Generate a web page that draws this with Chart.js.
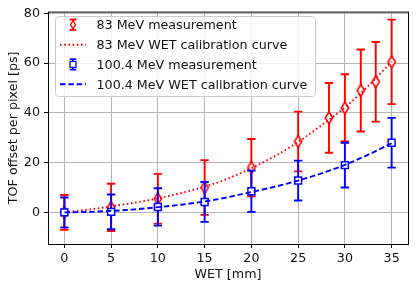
<!DOCTYPE html>
<html>
<head>
<meta charset="utf-8">
<script src="https://cdn.jsdelivr.net/npm/chart.js@4.4.1/dist/chart.umd.min.js"></script>
<style>
  html, body { margin: 0; padding: 0; background: #fff; }
  canvas { display: block; }
</style>
</head>
<body>
<canvas id="chart" width="416" height="289"></canvas>
<script>
// measured points, 83 MeV beam
const wet83 = [0, 5, 10, 15, 20, 25, 28.3, 30, 31.7, 33.3, 35];
const tof83 = [0, 2, 5.5, 10, 18, 28.5, 38, 42, 49, 52.5, 60.5];
const err83 = [7, 9.5, 10, 11, 11.5, 12, 14, 13.5, 16.5, 16, 17];

// measured points, 100.4 MeV beam
const wet100 = [0, 5, 10, 15, 20, 25, 30, 35];
const tof100 = [0, 0.2, 2.2, 4.2, 8.5, 12.8, 19, 28];
const err100 = [6, 7, 7.5, 8, 8.3, 8, 9, 10];

// calibration curves
const curveWet = [0, 2.5, 5, 7.5, 10, 12.5, 15, 17.5, 20, 22.5, 25, 27.5, 30, 32.5, 35];
const curve83 = [0, 1.1, 2.4, 3.9, 5.6, 7.8, 10.3, 13.6, 17.8, 22.6, 28.3, 35, 42.2, 50.8, 60.6];
const curve100 = [0, 0.2, 0.6, 1.2, 2.1, 3.1, 4.4, 6.1, 8.2, 10.3, 12.8, 15.7, 19.1, 23.2, 27.8];

const xTicks = [0, 5, 10, 15, 20, 25, 30, 35];
const yTicks = [0, 20, 40, 60, 80];

const labels = [
  '83 MeV measurement',
  '83 MeV WET calibration curve',
  '100.4 MeV measurement',
  '100.4 MeV WET calibration curve'
];

const RED = '#ff0000';
const BLUE = '#0000ff';
const FONT = '"DejaVu Sans", sans-serif';
const FSIZE = 12.7;
const DOTS = [1.6, 2.6];
const DASHES = [5.5, 2.8];

Chart.defaults.font.family = FONT;
Chart.defaults.font.size = FSIZE;
Chart.defaults.color = '#111';

function diamondPath(ctx, cx, cy, hw, hh) {
  ctx.beginPath();
  ctx.moveTo(cx, cy - hh);
  ctx.lineTo(cx + hw, cy);
  ctx.lineTo(cx, cy + hh);
  ctx.lineTo(cx - hw, cy);
  ctx.closePath();
}

// thin diamond marker like matplotlib 'd', white face
const diamond = document.createElement('canvas');
diamond.width = 12;
diamond.height = 16;
(function () {
  const c = diamond.getContext('2d');
  c.strokeStyle = RED;
  c.fillStyle = '#fff';
  c.lineWidth = 1.6;
  diamondPath(c, 6, 8, 3.7, 6);
  c.fill();
  c.stroke();
})();

const pts = (xs, ys) => xs.map((x, i) => ({ x: x, y: ys[i] }));

const errorBars = {
  id: 'errorBars',
  beforeDatasetDraw(chart, args) {
    const ds = chart.data.datasets[args.index];
    if (!ds.errors) return;
    const { ctx, scales: { x, y } } = chart;
    ctx.save();
    ctx.strokeStyle = ds.borderColor;
    ctx.lineWidth = 1.9;
    ds.data.forEach((p, i) => {
      const px = x.getPixelForValue(p.x);
      const top = y.getPixelForValue(p.y + ds.errors[i]);
      const bot = y.getPixelForValue(p.y - ds.errors[i]);
      ctx.beginPath();
      ctx.moveTo(px, top);
      ctx.lineTo(px, bot);
      ctx.moveTo(px - 4.2, top);
      ctx.lineTo(px + 4.2, top);
      ctx.moveTo(px - 4.2, bot);
      ctx.lineTo(px + 4.2, bot);
      ctx.stroke();
    });
    ctx.restore();
  }
};

const frameAndLegend = {
  id: 'frameAndLegend',
  afterDatasetsDraw(chart) {
    const { ctx, chartArea: a } = chart;
    ctx.save();
    ctx.strokeStyle = '#000';
    ctx.lineWidth = 1;
    ctx.strokeRect(a.left + 0.5, a.top + 0.5, a.right - a.left, a.bottom - a.top);

    // legend box
    const bx = 55.5, by = 16.5, bw = 260, bh = 80, r = 3;
    ctx.beginPath();
    ctx.moveTo(bx + r, by);
    ctx.arcTo(bx + bw, by, bx + bw, by + bh, r);
    ctx.arcTo(bx + bw, by + bh, bx, by + bh, r);
    ctx.arcTo(bx, by + bh, bx, by, r);
    ctx.arcTo(bx, by, bx + bw, by, r);
    ctx.closePath();
    ctx.fillStyle = 'rgba(255,255,255,0.8)';
    ctx.fill();
    ctx.strokeStyle = '#cccccc';
    ctx.stroke();

    const rows = [24.7, 44.8, 64.4, 84.3];
    const hx = 73, l0 = 60, l1 = 86;

    const errHandle = (cy, color) => {
      ctx.strokeStyle = color;
      ctx.lineWidth = 1.8;
      ctx.beginPath();
      ctx.moveTo(hx, cy - 5.2); ctx.lineTo(hx, cy + 5.2);
      ctx.moveTo(hx - 3.3, cy - 5.2); ctx.lineTo(hx + 3.3, cy - 5.2);
      ctx.moveTo(hx - 3.3, cy + 5.2); ctx.lineTo(hx + 3.3, cy + 5.2);
      ctx.stroke();
    };

    ctx.fillStyle = '#fff';
    errHandle(rows[0], RED);
    ctx.lineWidth = 1.3;
    diamondPath(ctx, hx, rows[0], 2.6, 3.9);
    ctx.fill();
    ctx.stroke();

    ctx.strokeStyle = RED;
    ctx.lineWidth = 1.9;
    ctx.setLineDash(DOTS);
    ctx.beginPath();
    ctx.moveTo(l0, rows[1]); ctx.lineTo(l1, rows[1]);
    ctx.stroke();

    ctx.setLineDash([]);
    errHandle(rows[2], BLUE);
    ctx.lineWidth = 1.3;
    ctx.fillRect(hx - 3, rows[2] - 3, 6, 6);
    ctx.strokeRect(hx - 3, rows[2] - 3, 6, 6);

    ctx.strokeStyle = BLUE;
    ctx.lineWidth = 1.9;
    ctx.setLineDash(DASHES);
    ctx.beginPath();
    ctx.moveTo(l0, rows[3]); ctx.lineTo(l1, rows[3]);
    ctx.stroke();
    ctx.setLineDash([]);

    ctx.fillStyle = '#111';
    ctx.font = FSIZE + 'px ' + FONT;
    ctx.textBaseline = 'alphabetic';
    ctx.textAlign = 'left';
    labels.forEach((t, i) => ctx.fillText(t, 96.5, rows[i] + 4.4));
    ctx.restore();
  }
};

new Chart(document.getElementById('chart'), {
  type: 'scatter',
  data: {
    datasets: [
      {
        data: pts(wet83, tof83),
        errors: err83,
        borderColor: RED,
        pointStyle: diamond,
        pointRadius: 6,
        showLine: false,
        order: 4
      },
      {
        data: pts(curveWet, curve83),
        borderColor: RED,
        borderWidth: 1.9,
        borderDash: DOTS,
        showLine: true,
        cubicInterpolationMode: 'monotone',
        pointRadius: 0,
        order: 3
      },
      {
        data: pts(wet100, tof100),
        errors: err100,
        borderColor: BLUE,
        backgroundColor: '#fff',
        pointStyle: 'rect',
        pointRadius: 4.9,
        pointBorderWidth: 1.5,
        showLine: false,
        order: 2
      },
      {
        data: pts(curveWet, curve100),
        borderColor: BLUE,
        borderWidth: 1.9,
        borderDash: DASHES,
        showLine: true,
        cubicInterpolationMode: 'monotone',
        pointRadius: 0,
        order: 1
      }
    ]
  },
  options: {
    responsive: false,
    animation: false,
    layout: { padding: { top: 11, right: 8, left: 0, bottom: 0 } },
    plugins: { legend: { display: false }, tooltip: { enabled: false } },
    scales: {
      x: {
        type: 'linear',
        min: -1.75,
        max: 36.75,
        afterBuildTicks: s => { s.ticks = xTicks.map(v => ({ value: v })); },
        afterFit: s => { s.height = 45; },
        grid: { color: '#b4b4b4', lineWidth: 1, tickColor: '#000', tickLength: 4 },
        border: { display: false },
        ticks: { padding: 3, maxRotation: 0 },
        title: { display: true, text: 'WET [mm]', padding: { top: 0, bottom: 6.5 } }
      },
      y: {
        type: 'linear',
        min: -12.7,
        max: 80.7,
        afterBuildTicks: s => { s.ticks = yTicks.map(v => ({ value: v })); },
        afterFit: s => { s.width = 48; },
        grid: { color: '#b4b4b4', lineWidth: 1, tickColor: '#000', tickLength: 4 },
        border: { display: false },
        ticks: { padding: 4 },
        title: { display: true, text: 'TOF offset per pixel [ps]', padding: { top: 6, bottom: 0 } }
      }
    }
  },
  plugins: [errorBars, frameAndLegend]
});
</script>
</body>
</html>
